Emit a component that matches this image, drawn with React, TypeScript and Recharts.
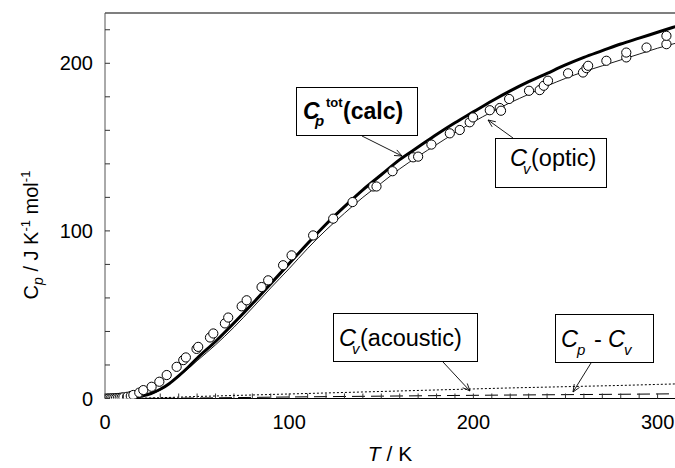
import React from 'react';
import { ComposedChart, Line, Scatter, XAxis, YAxis, ReferenceLine } from 'recharts';

// ---- data ----
const CALC_T = [0,5,10,15,20,25,30,35,40,45,50,60,70,80,90,100,110,120,130,140,150,160,170,180,190,200,210,220,230,240,250,260,270,280,290,300,310];
const CALC_CP = [0,0,0.1,0.5,1.5,3,5.5,9,13.5,18.5,24,34,45,56.5,68.5,80.5,92.5,104,114.5,124.5,133.5,142.5,150,157.5,164.5,171,177.5,183.5,189,194,199,203.5,207.5,211.5,215,218.5,222];

const OPTIC_T = [0,10,20,30,40,50,60,70,80,90,100,110,120,130,140,150,160,170,180,190,200,210,220,230,240,250,260,270,280,290,300,310];
const OPTIC_CV = [0,0,1.3,5,13,22.5,32,42.5,54,66,77.5,89.5,100.5,110.5,120,128.5,137,144.5,151.5,158.5,165,171,176.5,181.5,186.5,191,195,198.5,202,205.5,209,212];

const ACOUSTIC_T = [0,10,20,30,40,50,60,80,100,120,140,160,180,200,220,240,260,280,300,310];
const ACOUSTIC_CV = [0,0.05,0.2,0.5,0.8,1.2,1.5,2.1,2.7,3.3,3.9,4.5,5.1,5.7,6.3,6.8,7.3,7.8,8.4,8.7];

const DIFF_T = [0,50,100,150,200,250,300,310];
const DIFF_CP = [0,0.3,0.9,1.4,1.9,2.3,2.7,2.8];

const EXP_T = [1,2,3,4,5,6,7,8,9,10,12,14,15.4,18.6,20.8,25.3,29.5,33.5,38.9,42.5,43.9,49.7,50.6,57,58.8,65.1,66.9,74.2,76.9,85,88.6,96.7,101.3,113,123.9,134.4,145.6,147.4,156.1,167.3,170,177.2,187.2,192.6,198,199.8,208.9,214.3,215,219.4,230.2,236,238.2,240.5,251.4,259.5,261.4,262.3,272.2,283,283,294,304.8,304.8];
const EXP_CP = [0,0,0,0.1,0.1,0.2,0.3,0.4,0.5,0.7,1,1.5,2.1,3.5,5,7,10,14,18.9,22.9,24.5,29.6,30.8,36.4,38.8,44.8,48.3,55,58.6,66.5,70.5,79.5,85.4,97.3,107.3,117.2,126.5,126.5,135.6,143.9,144.3,151.5,158.2,160.2,164.8,167.7,172,173.3,171.7,178.7,183.6,184,186.6,189.6,194,194.5,197.1,198.5,201.5,203.5,206.4,209.4,211.4,216.4];

const X_TICKS = [0,10,20,30,40,50,60,70,80,90,100,110,120,130,140,150,160,170,180,190,200,210,220,230,240,250,260,270,280,290,300,310];
const X_LABELS = [0, 100, 200, 300];
const Y_TICKS = [0,20,40,60,80,100,120,140,160,180,200,220];
const Y_LABELS = [0, 100, 200];

const calcData = CALC_T.map((t, i) => ({ T: t, v: CALC_CP[i] }));
const opticData = OPTIC_T.map((t, i) => ({ T: t, v: OPTIC_CV[i] }));
const acousticData = ACOUSTIC_T.map((t, i) => ({ T: t, v: ACOUSTIC_CV[i] }));
const diffData = DIFF_T.map((t, i) => ({ T: t, v: DIFF_CP[i] }));
const expData = EXP_T.map((t, i) => ({ T: t, v: EXP_CP[i] }));

// ---- layout ----
const W = 680;
const H = 468;
const M = { top: 13, right: 4, left: 45, bottom: 39.5 };
const Y_AXIS_W = 60;
const X_AXIS_H = 30;
const BOTTOM = H - M.bottom - X_AXIS_H;
const LEFT = M.left + Y_AXIS_W;
const FONT = 'Arial, "Liberation Sans", Helvetica, sans-serif';
const AXIS = '#333';

const XTick = (props: any) => {
  const { x, payload } = props;
  const show = X_LABELS.includes(payload.value);
  return (
    <g>
      <line x1={x} x2={x} y1={BOTTOM} y2={BOTTOM - 5} stroke={AXIS} strokeWidth={1} />
      {show && (
        <text x={x} y={BOTTOM + 30} textAnchor="middle" fontSize={20} fontFamily={FONT} fill="#000">
          {payload.value}
        </text>
      )}
    </g>
  );
};

const YTick = (props: any) => {
  const { y, payload } = props;
  const show = Y_LABELS.includes(payload.value);
  return (
    <g>
      <line x1={LEFT} x2={LEFT + 5} y1={y} y2={y} stroke={AXIS} strokeWidth={1} />
      {show && (
        <text x={LEFT - 12} y={y + 7} textAnchor="end" fontSize={20} fontFamily={FONT} fill="#000">
          {payload.value}
        </text>
      )}
    </g>
  );
};

const Circle = (p: any) => (
  <circle cx={p.cx} cy={p.cy} r={4.6} fill="#fff" stroke="#000" strokeWidth={1} />
);

const Arrow = ({ x1, y1, x2, y2 }: { x1: number; y1: number; x2: number; y2: number }) => {
  const a = Math.atan2(y2 - y1, x2 - x1);
  const L = 8;
  const s = 0.4;
  const ax = x2 - L * Math.cos(a - s);
  const ay = y2 - L * Math.sin(a - s);
  const bx = x2 - L * Math.cos(a + s);
  const by = y2 - L * Math.sin(a + s);
  return (
    <g stroke="#000" strokeWidth={0.9} fill="none">
      <line x1={x1} y1={y1} x2={x2} y2={y2} />
      <polyline points={`${ax},${ay} ${x2},${y2} ${bx},${by}`} />
    </g>
  );
};

const Overlay = () => (
  <svg width={675} height={468} style={{ position: 'absolute', left: 0, top: 0, pointerEvents: 'none' }}>
    {/* Cp tot (calc) */}
    <rect x={296.5} y={87.5} width={121} height={48} fill="#fff" stroke="#000" strokeWidth={1} />
    <text fontFamily={FONT} fontWeight="bold" fill="#000">
      <tspan x={303} y={118.5} fontSize={23} fontStyle="italic">C</tspan>
      <tspan x={315} y={126} fontSize={15} fontStyle="italic">p</tspan>
      <tspan x={326} y={107} fontSize={13}>tot</tspan>
      <tspan x={343} y={118.5} fontSize={23}>(calc)</tspan>
    </text>
    <Arrow x1={362} y1={136} x2={402} y2={156} />

    {/* Cv optic */}
    <rect x={495.5} y={138.5} width={111} height={49} fill="#fff" stroke="#000" strokeWidth={1} />
    <text fontFamily={FONT} fill="#000">
      <tspan x={510} y={166} fontSize={23.5} fontStyle="italic">C</tspan>
      <tspan x={523} y={174} fontSize={15} fontStyle="italic">v</tspan>
      <tspan x={531} y={166} fontSize={23.5}>(optic)</tspan>
    </text>
    <Arrow x1={513} y1={138} x2={488} y2={120} />

    {/* Cv acoustic */}
    <rect x={333.5} y={313.5} width={144} height={48} fill="#fff" stroke="#000" strokeWidth={1} />
    <text fontFamily={FONT} fill="#000">
      <tspan x={339} y={346} fontSize={23.5} fontStyle="italic">C</tspan>
      <tspan x={352} y={354} fontSize={15} fontStyle="italic">v</tspan>
      <tspan x={360} y={346} fontSize={23.5}>(acoustic)</tspan>
    </text>
    <Arrow x1={443} y1={362} x2={470} y2={391} />

    {/* Cp - Cv */}
    <rect x={555.5} y={314.5} width={98} height={48} fill="#fff" stroke="#000" strokeWidth={1} />
    <text fontFamily={FONT} fill="#000">
      <tspan x={561} y={347} fontSize={23.5} fontStyle="italic">C</tspan>
      <tspan x={577} y={355} fontSize={15} fontStyle="italic">p</tspan>
      <tspan x={594} y={347} fontSize={23.5}>-</tspan>
      <tspan x={608} y={347} fontSize={23.5} fontStyle="italic">C</tspan>
      <tspan x={624} y={355} fontSize={15} fontStyle="italic">v</tspan>
    </text>
    <Arrow x1={591} y1={363} x2={573} y2={392} />

    {/* axis titles */}
    <text x={390} y={461} textAnchor="middle" fontFamily={FONT} fontSize={21} fill="#000">
      <tspan fontStyle="italic">T</tspan>
      <tspan> / K</tspan>
    </text>
    <g transform="translate(38,235) rotate(-90)">
      <text x={0} y={0} textAnchor="middle" fontFamily={FONT} fontSize={20} fill="#000">
        <tspan>C</tspan>
        <tspan fontSize={14} fontStyle="italic" dy={5}>p</tspan>
        <tspan dy={-5}> / J K</tspan>
        <tspan fontSize={13} dy={-8}>-1</tspan>
        <tspan dy={8}> mol</tspan>
        <tspan fontSize={13} dy={-8}>-1</tspan>
      </text>
    </g>
  </svg>
);

export default function App() {
  return (
    <div style={{ position: 'absolute', left: 0, top: 0, width: 675, height: 468, overflow: 'hidden', background: '#fff' }}>
      <ComposedChart width={W} height={H} margin={M}>
        <XAxis
          dataKey="T"
          type="number"
          domain={[0, 310]}
          ticks={X_TICKS}
          interval={0}
          height={X_AXIS_H}
          tickLine={false}
          axisLine={{ stroke: '#000' }}
          tick={<XTick />}
          allowDataOverflow
        />
        <YAxis
          type="number"
          domain={[0, 230]}
          ticks={Y_TICKS}
          interval={0}
          width={Y_AXIS_W}
          tickLine={false}
          axisLine={{ stroke: '#555' }}
          tick={<YTick />}
          allowDataOverflow
        />
        <ReferenceLine y={230} stroke="#000" strokeWidth={1.2} />
        <Line data={diffData} dataKey="v" type="monotone" stroke="#000" strokeWidth={1} strokeDasharray="13 6" dot={false} isAnimationActive={false} />
        <Line data={acousticData} dataKey="v" type="monotone" stroke="#000" strokeWidth={1} strokeDasharray="2 2" dot={false} isAnimationActive={false} />
        <Line data={opticData} dataKey="v" type="monotone" stroke="#000" strokeWidth={0.9} dot={false} isAnimationActive={false} />
        <Scatter data={expData} dataKey="v" shape={<Circle />} isAnimationActive={false} />
        <Line data={calcData} dataKey="v" type="monotone" stroke="#000" strokeWidth={3} dot={false} isAnimationActive={false} />
      </ComposedChart>
      <Overlay />
    </div>
  );
}
